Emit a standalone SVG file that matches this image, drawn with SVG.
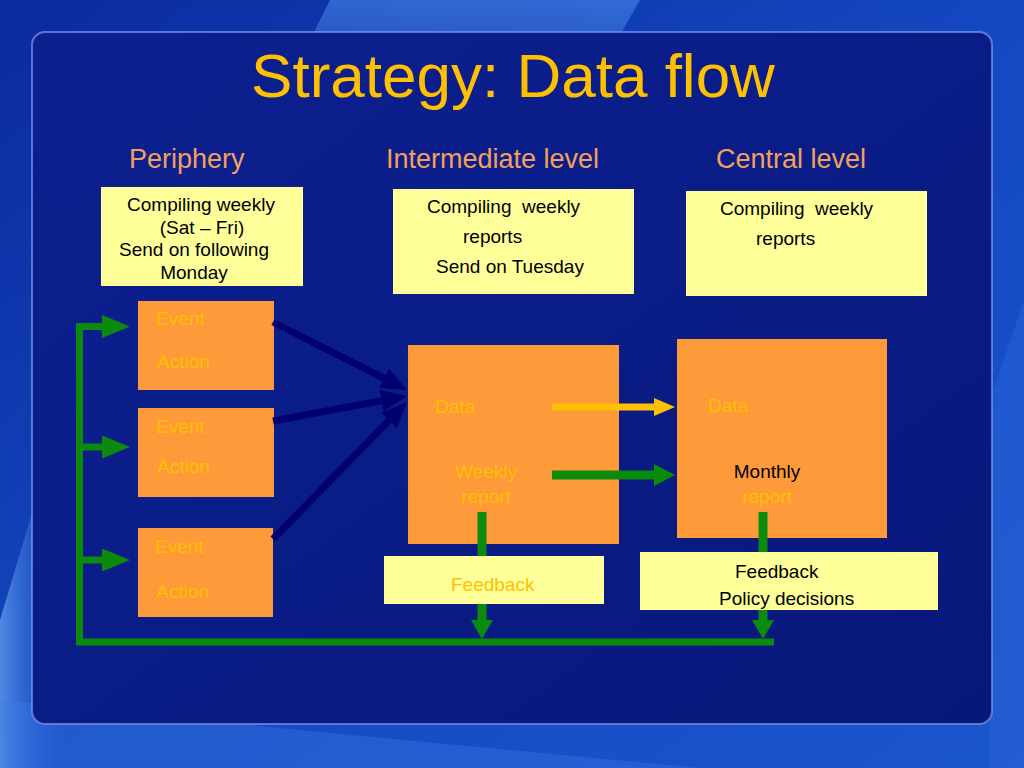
<svg xmlns="http://www.w3.org/2000/svg" width="1024" height="768" viewBox="0 0 1024 768">
<defs>
<linearGradient id="bg" x1="0" y1="0" x2="1" y2="1">
<stop offset="0" stop-color="#0a2a9e"/>
<stop offset="0.5" stop-color="#1448c0"/>
<stop offset="1" stop-color="#1a56cc"/>
</linearGradient>
<linearGradient id="panel" x1="0" y1="0" x2="1" y2="1">
<stop offset="0" stop-color="#0c2090"/>
<stop offset="0.5" stop-color="#0a1c86"/>
<stop offset="1" stop-color="#08177a"/>
</linearGradient>
<linearGradient id="streak" x1="0" y1="0" x2="0" y2="1">
<stop offset="0" stop-color="#4f8ff0" stop-opacity="0.55"/>
<stop offset="1" stop-color="#4f8ff0" stop-opacity="0"/>
</linearGradient>
<linearGradient id="streak2" x1="0" y1="0" x2="1" y2="0">
<stop offset="0" stop-color="#6aa8f5" stop-opacity="0.7"/>
<stop offset="1" stop-color="#2f6ae0" stop-opacity="0"/>
</linearGradient>
<marker id="gSide" markerUnits="userSpaceOnUse" markerWidth="28" markerHeight="23" viewBox="0 0 28 23" refX="0" refY="11.5" orient="auto"><path d="M0,0 L28,11.5 L0,23 Z" fill="#0b8a0b"/></marker>
<marker id="gMid" markerUnits="userSpaceOnUse" markerWidth="21" markerHeight="22" viewBox="0 0 21 22" refX="0" refY="11" orient="auto"><path d="M0,0 L21,11 L0,22 Z" fill="#0b8a0b"/></marker>
<marker id="gDown" markerUnits="userSpaceOnUse" markerWidth="19" markerHeight="22" viewBox="0 0 19 22" refX="0" refY="11" orient="auto"><path d="M0,0 L19,11 L0,22 Z" fill="#0b8a0b"/></marker>
<marker id="yHead" markerUnits="userSpaceOnUse" markerWidth="21" markerHeight="18" viewBox="0 0 21 18" refX="0" refY="9" orient="auto"><path d="M0,0 L21,9 L0,18 Z" fill="#ffc000"/></marker>
<marker id="nHead" markerUnits="userSpaceOnUse" markerWidth="26" markerHeight="22" viewBox="0 0 26 22" refX="0" refY="11" orient="auto"><path d="M0,0 L26,11 L0,22 Z" fill="#00006e"/></marker>
</defs>
<style>
text{font-family:"Liberation Sans",Arial,sans-serif}
.title{font-size:62px;fill:#ffc000}
.hdr{font-size:27px;fill:#f4a05c}
.note{font-size:19px;fill:#000000}
.lbl{font-size:19px;fill:#ffc000}
.blk{font-size:19px;fill:#000000}
.ybox{fill:#ffff99}
.obox{fill:#fe9a3a}
.green{stroke:#0b8a0b;fill:none}
.navy{stroke:#00006e;stroke-width:7;fill:none}
</style>
<rect x="0" y="0" width="1024" height="768" fill="url(#bg)"/>
<polygon points="330,0 640,0 560,140 260,140" fill="url(#streak)"/>
<polygon points="0,620 60,420 60,768 0,768" fill="url(#streak2)"/>
<polygon points="0,768 0,700 300,730 700,768" fill="#3d7ee8" opacity="0.35"/>
<polygon points="1024,300 1024,768 990,768 990,400" fill="#2a64d8" opacity="0.5"/>
<rect x="32" y="32" width="960" height="692" rx="13" fill="url(#panel)" stroke="#7f97e6" stroke-opacity="0.7" stroke-width="2"/>
<text class="title" x="513" y="97" text-anchor="middle">Strategy: Data flow</text>
<g id="headers">
<text class="hdr" x="129" y="168">Periphery</text>
<text class="hdr" x="386" y="168">Intermediate level</text>
<text class="hdr" x="716" y="168">Central level</text>
</g>
<g id="note-periphery">
<rect class="ybox" x="101" y="187" width="202" height="99"/>
<text class="note" x="201" y="211" text-anchor="middle">Compiling weekly</text>
<text class="note" x="202" y="234" text-anchor="middle">(Sat – Fri)</text>
<text class="note" x="194" y="256" text-anchor="middle">Send on following</text>
<text class="note" x="194" y="279" text-anchor="middle">Monday</text>
</g>
<g id="note-intermediate">
<rect class="ybox" x="393" y="189" width="241" height="105"/>
<text class="note" x="427" y="213" xml:space="preserve">Compiling  weekly</text>
<text class="note" x="463" y="243">reports</text>
<text class="note" x="436" y="273">Send on Tuesday</text>
</g>
<g id="note-central">
<rect class="ybox" x="686" y="191" width="241" height="105"/>
<text class="note" x="720" y="215" xml:space="preserve">Compiling  weekly</text>
<text class="note" x="756" y="245">reports</text>
</g>
<g id="site-1">
<rect class="obox" x="138" y="301" width="136" height="89"/>
<text class="lbl" x="156" y="325">Event</text>
<text class="lbl" x="157" y="368">Action</text>
</g>
<g id="site-2">
<rect class="obox" x="138" y="408" width="136" height="89"/>
<text class="lbl" x="156" y="433">Event</text>
<text class="lbl" x="157" y="473">Action</text>
</g>
<g id="site-3">
<rect class="obox" x="138" y="528" width="135" height="89"/>
<text class="lbl" x="155" y="553">Event</text>
<text class="lbl" x="156" y="598">Action</text>
</g>
<g id="intermediate">
<rect class="obox" x="408" y="345" width="211" height="199"/>
<text class="lbl" x="435" y="413">Data</text>
<text class="lbl" x="486" y="478" text-anchor="middle">Weekly</text>
<text class="lbl" x="486" y="503" text-anchor="middle">report</text>
</g>
<g id="central">
<rect class="obox" x="677" y="339" width="210" height="199"/>
<text class="lbl" x="708" y="412">Data</text>
<text class="blk" x="767" y="478" text-anchor="middle">Monthly</text>
<text class="lbl" x="767" y="503" text-anchor="middle">report</text>
</g>
<g id="connectors">
<line class="navy" x1="273" y1="322" x2="384" y2="378.3" marker-end="url(#nHead)"/>
<line class="navy" x1="273" y1="421" x2="381.5" y2="400.8" marker-end="url(#nHead)"/>
<line class="navy" x1="273" y1="539" x2="389" y2="420.5" marker-end="url(#nHead)"/>
<line x1="552" y1="407" x2="654" y2="407" stroke="#ffc000" stroke-width="7" marker-end="url(#yHead)"/>
<line class="green" x1="552" y1="475" x2="654" y2="475" stroke-width="9" marker-end="url(#gMid)"/>
<line class="green" x1="482" y1="512" x2="482" y2="620" stroke-width="9" marker-end="url(#gDown)"/>
<line class="green" x1="763" y1="512" x2="763" y2="620" stroke-width="9" marker-end="url(#gDown)"/>
<polyline class="green" points="774,642 79.5,642 79.5,326.5 102,326.5" stroke-width="7" marker-end="url(#gSide)"/>
<line class="green" x1="79.5" y1="447" x2="102" y2="447" stroke-width="7" marker-end="url(#gSide)"/>
<line class="green" x1="79.5" y1="560" x2="102" y2="560" stroke-width="7" marker-end="url(#gSide)"/>
</g>
<g id="feedback-intermediate">
<rect class="ybox" x="384" y="556" width="220" height="48"/>
<text class="lbl" x="451" y="591">Feedback</text>
</g>
<g id="feedback-central">
<rect class="ybox" x="640" y="552" width="298" height="58"/>
<text class="blk" x="735" y="578">Feedback</text>
<text class="blk" x="719" y="605">Policy decisions</text>
</g>
</svg>
